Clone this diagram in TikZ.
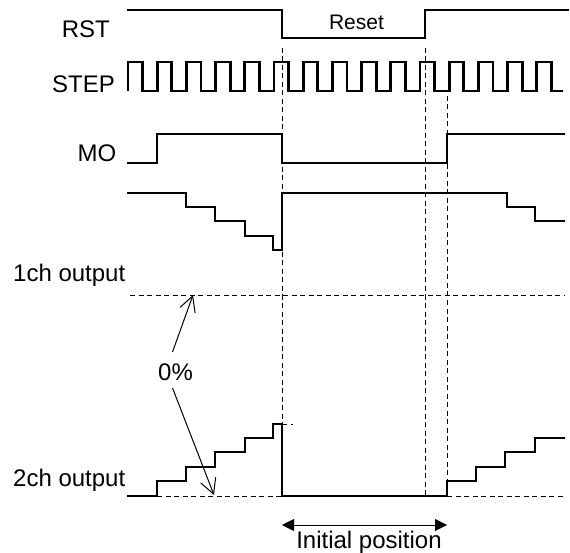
\documentclass[tikz,border=0pt]{standalone}
\usepackage{fontspec}
\setmainfont{Liberation Sans}
\usepackage{tikz}
\usetikzlibrary{positioning,arrows.meta}

\begin{document}
\begin{tikzpicture}[
  x=1pt, y=-1pt,
  lbl/.style={inner sep=0pt, font=\fontsize{24}{28}\selectfont},
  sig/.style={line width=2.8pt},
  grid/.style={line width=0.9pt, dash pattern=on 5pt off 3.5pt},
  thin/.style={line width=1pt},
  >=Stealth
]
  \useasboundingbox (0,0) rectangle (570,553);

  \node[lbl, anchor=base east] (rst) at (110,38) {RST};
  \node[lbl, anchor=base east] (step) at (115,92.5) {STEP};
  \node[lbl, anchor=base east] (mo) at (116.5,161.5) {MO};
  \node[lbl, anchor=base west] (out1) at (13,281.5) {1ch output};
  \node[lbl, anchor=base west] (out2) at (13,486) {2ch output};
  \node[lbl, anchor=base, font=\fontsize{21}{24}\selectfont] (reset) at (356.5,30) {Reset};
  \node[lbl, anchor=base] (init) at (369,548) {Initial position};
  \node[lbl, anchor=base] (pct) at (175.5,380) {0\%};

  \draw[grid] (282,48) -- (282,424);
  \draw[grid] (425,48) -- (425,496);
  \draw[grid] (447,96) -- (447,481);
  \draw[grid] (130,295) -- (565,295);
  \draw[grid] (157,496) -- (282,496);
  \draw[grid] (447,496) -- (565,496);
  \draw[grid] (282,424) -- (293,424);

  \draw[sig] (127,10) -- (282,10) -- (282,38) -- (425,38) -- (425,10) -- (569,10);
  \draw[sig] (128,91) \foreach \k in {0,...,14} {
      -- ({128+29.2*\k},62) -- ({142.6+29.2*\k},62)
      -- ({142.6+29.2*\k},91) -- ({min(157.2+29.2*\k,563)},91)};
  \draw[sig] (127,163) -- (157,163) -- (157,134) -- (282,134) -- (282,163)
    -- (447,163) -- (447,134) -- (565,134);
  \draw[sig] (127,193) -- (186,193) -- (186,207) -- (215,207) -- (215,221)
    -- (245,221) -- (245,236) -- (273,236) -- (273,250) -- (282,250)
    -- (282,193) -- (507,193) -- (507,207) -- (535,207) -- (535,221) -- (565,221);
  \draw[sig] (127,496) -- (157,496) -- (157,481) -- (186,481) -- (186,467)
    -- (215,467) -- (215,452) -- (245,452) -- (245,438) -- (273,438)
    -- (273,424) -- (282,424) -- (282,496) -- (447,496) -- (447,481)
    -- (476,481) -- (476,467) -- (505,467) -- (505,452) -- (535,452)
    -- (535,438) -- (565,438);

  \coordinate (zero1) at (193,295);
  \coordinate (zero2) at (214,495);
  \draw[thin, -{Straight Barb[length=15pt,width=16pt]}]
    ([xshift=-3pt, yshift=28pt]pct.base) -- (zero1);
  \draw[thin, -{Straight Barb[length=15pt,width=16pt]}]
    ([xshift=-3pt, yshift=-8pt]pct.base) -- (zero2);

  \coordinate (ipl) at (282,525);
  \coordinate (ipr) at (447,525);
  \draw[thin, {Triangle[length=12pt,width=12pt]}-{Triangle[length=12pt,width=12pt]}]
    (ipl) -- (ipr);
\end{tikzpicture}
\end{document}
